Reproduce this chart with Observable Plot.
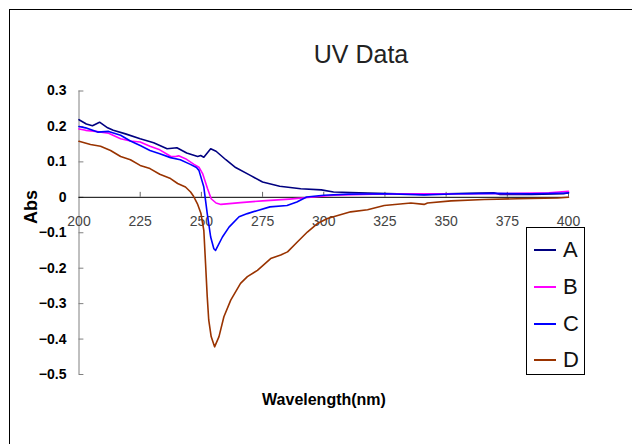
<!DOCTYPE html>
<html>
<head>
<meta charset="utf-8">
<script src="https://cdn.jsdelivr.net/npm/d3@7"></script>
<script src="https://cdn.jsdelivr.net/npm/@observablehq/plot@0.6"></script>
<style>
  html, body { margin: 0; padding: 0; background: #fff; overflow: hidden; }
  #wrap { position: relative; width: 632px; height: 444px; font-family: "Liberation Sans", Arial, sans-serif; }
  #frame { position: absolute; left: 9px; top: 9px; width: 700px; height: 500px; border: 1px solid #000; box-sizing: border-box; pointer-events: none; }
  #title { position: absolute; left: 0; width: 722px; top: 40px; text-align: center; font-size: 25px; color: #222; }
  #ylab { position: absolute; left: 31px; top: 207px; transform: translate(-50%, -50%) rotate(-90deg); font-size: 18px; font-weight: bold; }
  #xlab { position: absolute; left: 324px; top: 400px; transform: translate(-50%, -50%); font-size: 16px; font-weight: bold; }
  #legend { position: absolute; left: 526px; top: 227px; width: 59px; height: 148px; border: 1px solid #000; box-sizing: border-box; background: #fff; }
  .row { position: absolute; left: 0; height: 24px; width: 59px; }
  .row .sw { position: absolute; left: 7px; top: 11px; width: 22px; height: 2px; }
  .row .lb { position: absolute; left: 36px; top: 0; font-size: 22px; line-height: 24px; color: #111; }
  #chart svg { position: absolute; left: 0; top: 0; }
</style>
</head>
<body>
<div id="wrap">
  <div id="chart"></div>
  <div id="frame"></div>
  <div id="title">UV Data</div>
  <div id="ylab">Abs</div>
  <div id="xlab">Wavelength(nm)</div>
  <div id="legend"></div>
</div>
<script>
// Series names and colours
const seriesNames = ["A", "B", "C", "D"];
const seriesColors = ["#000080", "#FF00FF", "#0000FF", "#993300"];

// Series A
const nmA = [200, 203, 205.5, 208.4, 211.7, 214, 219, 225, 230.5, 236, 240, 244, 248.5, 249.7, 251, 253.8, 256, 260, 264, 270, 275, 282, 290.6, 299, 304, 318, 330, 341, 350, 360, 369.5, 372, 385, 398, 400];
const absA = [0.219, 0.207, 0.202, 0.212, 0.196, 0.189, 0.179, 0.165, 0.154, 0.137, 0.140, 0.125, 0.115, 0.118, 0.113, 0.137, 0.130, 0.106, 0.084, 0.062, 0.043, 0.031, 0.024, 0.021, 0.015, 0.012, 0.010, 0.008, 0.010, 0.011, 0.013, 0.008, 0.008, 0.010, 0.013];

// Series B
const nmB = [200, 202.7, 206.8, 212.1, 217, 221, 225, 229, 233, 237.4, 239.5, 240.7, 243.5, 247, 249, 250.5, 252.5, 254, 256, 258, 266, 275, 286, 294.7, 304, 320, 340, 360, 380, 392, 400];
const absB = [0.193, 0.189, 0.186, 0.181, 0.165, 0.159, 0.156, 0.144, 0.134, 0.116, 0.115, 0.117, 0.109, 0.093, 0.085, 0.067, 0.025, -0.004, -0.016, -0.020, -0.015, -0.010, -0.005, 0.000, 0.006, 0.009, 0.010, 0.010, 0.011, 0.013, 0.017];

// Series C
const nmC = [200, 202.7, 207.6, 212.1, 217, 221, 225, 229, 233, 237.4, 241.4, 245.5, 248, 249, 251, 252.4, 253.8, 255.1, 255.8, 258.6, 261.3, 265.4, 268.8, 273, 278, 285, 289, 293, 300, 310, 325, 341, 355, 370, 385, 400];
const absC = [0.200, 0.196, 0.184, 0.186, 0.175, 0.159, 0.146, 0.132, 0.123, 0.112, 0.106, 0.093, 0.084, 0.076, 0.029, -0.046, -0.112, -0.145, -0.150, -0.112, -0.084, -0.055, -0.046, -0.037, -0.027, -0.023, -0.013, 0.001, 0.006, 0.009, 0.010, 0.007, 0.010, 0.011, 0.010, 0.012];

// Series D
const nmD = [200, 204.7, 208.8, 212.9, 217, 221, 225, 229, 233, 237.4, 240.3, 243.5, 245.6, 246.8, 247.6, 248.5, 249.8, 251, 251.7, 252.4, 253, 254, 255.4, 257.2, 259.2, 262, 266, 268.8, 272.9, 278.3, 282.4, 285.2, 289.2, 293.3, 297.4, 301.5, 311, 317.9, 324.7, 335.6, 341, 342.4, 352, 365.6, 379, 395.6, 400];
const absD = [0.158, 0.149, 0.144, 0.132, 0.115, 0.106, 0.090, 0.081, 0.065, 0.053, 0.039, 0.029, 0.015, 0.003, -0.008, -0.020, -0.045, -0.093, -0.186, -0.281, -0.346, -0.393, -0.422, -0.393, -0.337, -0.290, -0.243, -0.224, -0.206, -0.173, -0.163, -0.154, -0.126, -0.098, -0.074, -0.060, -0.041, -0.035, -0.023, -0.016, -0.020, -0.016, -0.010, -0.006, -0.004, -0.002, 0.000];

// Tick values
const xTicks = [200, 225, 250, 275, 300, 325, 350, 375, 400];
const xInnerTicks = [225, 250, 275, 300, 325, 350, 375, 400];
const yTicks = [0.3, 0.2, 0.1, 0, -0.1, -0.2, -0.3, -0.4, -0.5];

const nmList = [nmA, nmB, nmC, nmD];
const absList = [absA, absB, absC, absD];
const rows = nmList.map((nms, s) => nms.map((w, i) => ({series: seriesNames[s], nm: w, abs: absList[s][i]})));

const fmtY = d => d === 0 ? "0" : d3.format(".1f")(d);

const plot = Plot.plot({
  width: 632,
  height: 444,
  marginLeft: 78.5,
  marginRight: 64,
  marginTop: 90.5,
  marginBottom: 70,
  x: {domain: [200, 400], axis: null},
  y: {domain: [-0.5, 0.3], axis: null},
  style: {fontFamily: "Liberation Sans, Arial, sans-serif", background: "transparent", overflow: "visible"},
  marks: [
    Plot.ruleX([200], {y1: -0.5, y2: 0.3, stroke: "#808080", strokeWidth: 1}),
    Plot.ruleY(yTicks, {y: d => d, x1: 200, x2: 202, stroke: "#808080", strokeWidth: 1}),
    Plot.text(yTicks, {x: 200, y: d => d, text: fmtY, textAnchor: "end", dx: -12.5, fontSize: 14, fontWeight: "bold", fill: "#000"}),
    Plot.ruleY([0], {stroke: "#000", strokeWidth: 1}),
    Plot.ruleX(xInnerTicks, {x: d => d, y1: 0, y2: 0.014, stroke: "#666", strokeWidth: 1}),
    Plot.text(xTicks, {x: d => d, y: 0, text: d => String(d), dy: 24, fontSize: 14, fill: "#444", lineAnchor: "middle"}),
    ...rows.map((r, s) => Plot.line(r, {x: "nm", y: "abs", stroke: seriesColors[s], strokeWidth: 1.6, curve: "linear"}))
  ]
});
document.getElementById("chart").appendChild(plot);

// Legend
const leg = document.getElementById("legend");
const rowTops = [10, 47, 83.5, 120];
seriesNames.forEach((n, i) => {
  const r = document.createElement("div");
  r.className = "row";
  r.style.top = rowTops[i] + "px";
  r.innerHTML = `<div class="sw" style="background:${seriesColors[i]}"></div><div class="lb">${n}</div>`;
  leg.appendChild(r);
});
</script>
</body>
</html>
